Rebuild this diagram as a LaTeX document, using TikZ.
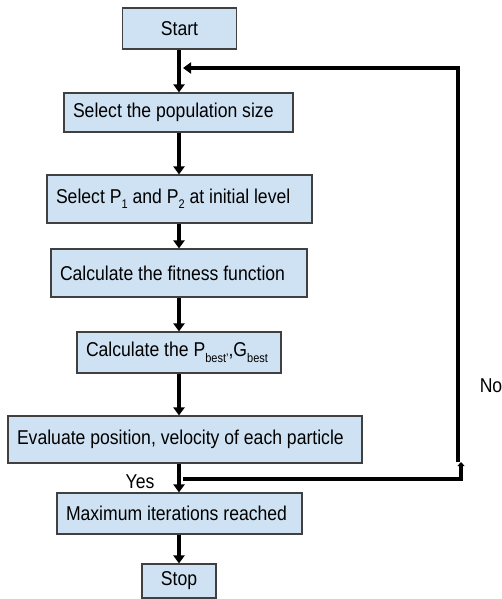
\documentclass[tikz,border=0pt]{standalone}
\usepackage{fontspec}
\setmainfont{Liberation Sans}[FakeStretch=0.88]
\usetikzlibrary{arrows.meta}
\definecolor{boxfill}{HTML}{CFE2F3}
\definecolor{boxline}{HTML}{404040}
\newcommand{\lowsub}[1]{\raisebox{-5.5pt}{\fontsize{12.5}{12.5}\selectfont #1}}
\newcommand{\lft}[2]{\makebox[#1][l]{#2}}
\tikzset{
  box/.style={draw=boxline, fill=boxfill, line width=1.1pt, inner xsep=9pt, inner ysep=0pt,
    font=\fontsize{20}{22}\selectfont},
  flow/.style={line width=4pt, -{Triangle[width=11pt,length=8pt]}},
  loopline/.style={line width=4pt},
  lbl/.style={font=\fontsize{20}{22}\selectfont}
}
\begin{document}
\begin{tikzpicture}[x=1pt,y=-1pt]
\useasboundingbox (0,0) rectangle (502,599);
\node[box, minimum width=114pt, minimum height=41pt] (start) at (179.5,28.5) {Start};
\node[box, minimum height=39pt] (pop) at (178.5,112.5) {\lft{211pt}{Select the population size}};
\node[box, minimum height=48pt] (p12) at (179.5,199) {\lft{247pt}{Select P\lowsub{1} and P\lowsub{2} at initial level}};
\node[box, minimum height=48pt] (fit) at (179,273) {\lft{238pt}{Calculate the fitness function}};
\node[box, minimum height=41pt] (pb) at (179,352.5) {\lft{186pt}{Calculate the P\lowsub{best'},G\lowsub{best}}};
\node[box, minimum height=47pt] (ev) at (185,439.5) {\lft{336pt}{Evaluate position, velocity of each particle}};
\node[box, minimum height=41pt] (mx) at (179.5,513.5) {\lft{227pt}{Maximum iterations reached}};
\node[box, minimum width=74pt, minimum height=34pt] (stop) at (179,581) {Stop};
\node[lbl] (yes) at (140,482) {Yes};
\node[lbl] (no) at (491,386) {No};
\coordinate (j1) at (179,68);
\coordinate (j2) at (179,479);
\coordinate (c1) at (461,479);
\coordinate (c0) at (461,462);
\coordinate (c3) at (458,462);
\coordinate (c2) at (458,68);
\draw[flow] (start.south -| j1) -- (pop.north -| j1);
\draw[flow] (pop.south -| j1) -- (p12.north -| j1);
\draw[flow] (p12.south -| j1) -- (fit.north -| j1);
\draw[flow] (fit.south -| j1) -- (pb.north -| j1);
\draw[flow] (pb.south -| j1) -- (ev.north -| j1);
\draw[flow] (ev.south -| j1) -- (mx.north -| j1);
\draw[flow] (mx.south -| j1) -- (stop.north -| j1);
\draw[loopline, line join=miter, -{Triangle[width=7pt,length=4pt]}] ([xshift=4pt]j2) -- (c1) -- (c0);
\draw[loopline, line join=miter] (c3) -- (c2) -- ([xshift=-2pt]c2);
\draw[flow] (c2) -- ([xshift=4pt]j1);
\end{tikzpicture}
\end{document}
